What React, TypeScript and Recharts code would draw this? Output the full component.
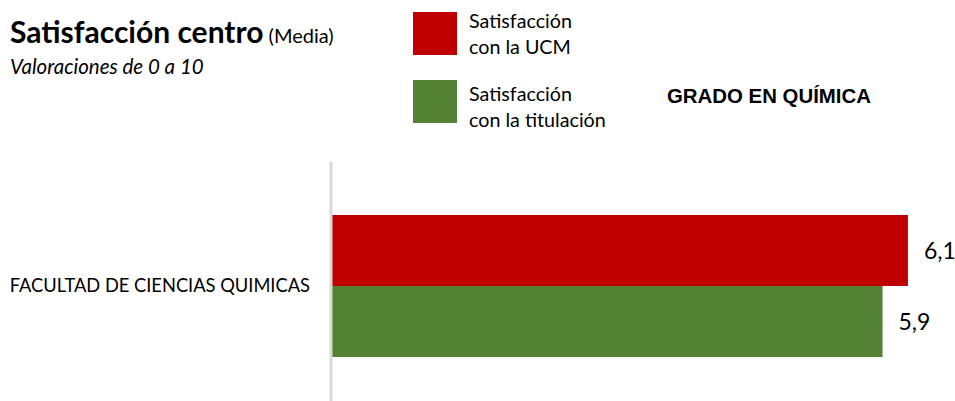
import React from "react";
import { BarChart, Bar, XAxis, YAxis, LabelList } from "recharts";

const categories = ["FACULTAD DE CIENCIAS QUIMICAS"];
const ucmValues = [6.13];
const titulacionValues = [5.86];
const seriesNames = ["Satisfacción\ncon la UCM", "Satisfacción\ncon la titulación"];
const seriesColors = ["#c00000", "#548235"];

const data = categories.map((name, i) => ({
  name,
  ucm: ucmValues[i],
  titulacion: titulacionValues[i],
}));

const FONT = "Lato, 'Open Sans', sans-serif";

const fmt = (v: any) => Number(v).toFixed(1).replace(".", ",");

// legend squares and text blocks, one pair per series
const legendBoxTop = [12, 80];
const legendTextTop = [8, 81];

function LegendBox() {
  return (
    <>
      {seriesNames.map((n, i) => (
        <React.Fragment key={i}>
          <div
            style={{
              position: "absolute",
              left: 413,
              top: legendBoxTop[i],
              width: 44,
              height: 43,
              background: seriesColors[i],
            }}
          />
          <div
            style={{
              position: "absolute",
              left: 469,
              top: legendTextTop[i],
              whiteSpace: "pre",
              fontFamily: FONT,
              fontSize: 19.7,
              lineHeight: "26px",
              color: "#000",
            }}
          >
            {n}
          </div>
        </React.Fragment>
      ))}
    </>
  );
}

export default function App() {
  return (
    <div
      style={{
        position: "absolute",
        left: 0,
        top: 0,
        width: 955,
        height: 401,
        overflow: "hidden",
        background: "#fff",
      }}
    >
      <div
        style={{
          position: "absolute",
          left: 10,
          top: 14,
          fontFamily: FONT,
          whiteSpace: "nowrap",
          lineHeight: "34px",
        }}
      >
        <span style={{ fontSize: 30, fontWeight: 700 }}>Satisfacción centro</span>
        <span style={{ fontSize: 20 }}> (Media)</span>
      </div>
      <div
        style={{
          position: "absolute",
          left: 10,
          top: 53,
          fontFamily: FONT,
          fontSize: 20.5,
          fontStyle: "italic",
          lineHeight: "26px",
        }}
      >
        Valoraciones de 0 a 10
      </div>
      <LegendBox />
      <div
        style={{
          position: "absolute",
          left: 667,
          top: 85,
          fontFamily: "'Liberation Sans', Arial, sans-serif",
          fontSize: 20.4,
          fontWeight: 700,
        }}
      >
        GRADO EN QUÍMICA
      </div>
      <BarChart
        width={955}
        height={410}
        data={data}
        layout="vertical"
        margin={{ top: 162, right: 0, bottom: 0, left: 0 }}
        barCategoryGap={53}
        barGap={0}
      >
        <XAxis type="number" domain={[0, 6.63]} hide />
        <YAxis
          type="category"
          dataKey="name"
          width={331}
          axisLine={{ stroke: "#d9d9d9", strokeWidth: 3 }}
          tickLine={false}
          tickSize={0}
          tickMargin={21}
          tick={{ fontFamily: FONT, fontSize: 18.3, fill: "#000" }}
        />
        <Bar dataKey="ucm" name="Satisfacción con la UCM" fill={seriesColors[0]} isAnimationActive={false}>
          <LabelList
            dataKey="ucm"
            position="right"
            offset={16}
            formatter={fmt}
            style={{ fontFamily: FONT, fontSize: 23, fill: "#000" }}
          />
        </Bar>
        <Bar dataKey="titulacion" name="Satisfacción con la titulación" fill={seriesColors[1]} isAnimationActive={false}>
          <LabelList
            dataKey="titulacion"
            position="right"
            offset={16}
            formatter={fmt}
            style={{ fontFamily: FONT, fontSize: 23, fill: "#000" }}
          />
        </Bar>
      </BarChart>
    </div>
  );
}
